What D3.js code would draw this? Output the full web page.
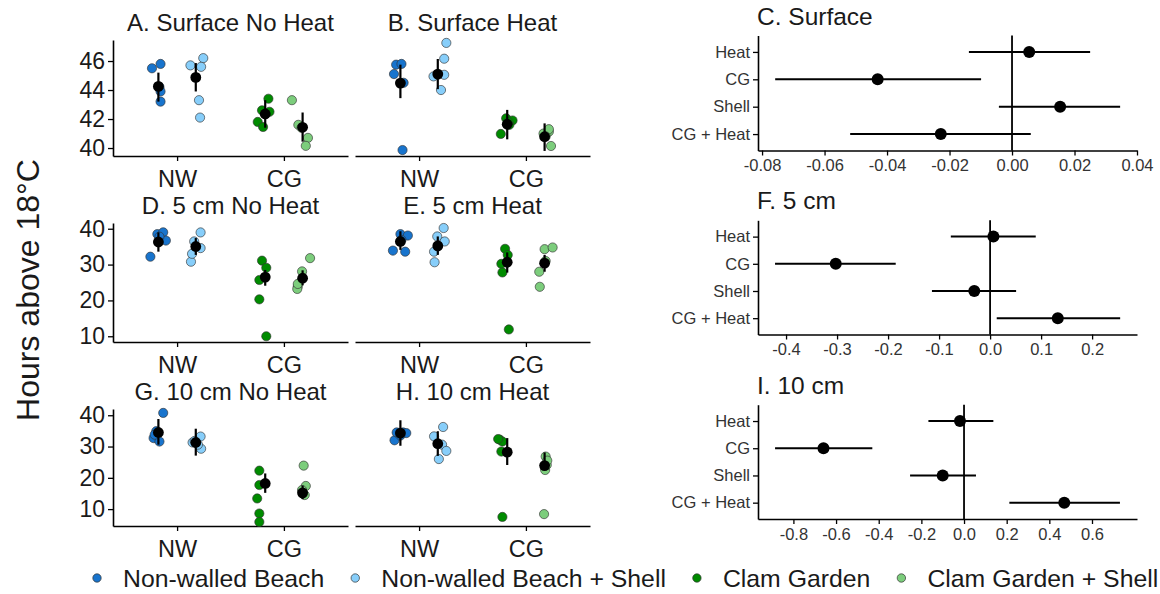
<!DOCTYPE html>
<html>
<head>
<meta charset="utf-8">
<script src="https://cdn.jsdelivr.net/npm/d3@7"></script>
<style>
  html, body { margin: 0; padding: 0; background: #fff; }
  svg { display: block; font-family: "Liberation Sans", Arial, sans-serif; }
</style>
</head>
<body>
<svg id="chart" width="1160" height="594"></svg>
<script>
// ---------------- DATA ----------------
const groups = ["Non-walled Beach", "Non-walled Beach + Shell", "Clam Garden", "Clam Garden + Shell"];
const groupColors = ["#1874CD", "#87CEFA", "#008B00", "#7CCD7C"];
const sites = ["NW", "CG"];
const panelTitles = ["A. Surface No Heat", "B. Surface Heat", "D. 5 cm No Heat", "E. 5 cm Heat", "G. 10 cm No Heat", "H. 10 cm Heat"];
const yTicksRow1 = [40, 42, 44, 46];
const yTicksRow2 = [10, 20, 30, 40];
const yTicksRow3 = [10, 20, 30, 40];

// raw values per group [NW, NW+Shell, CG, CG+Shell]
const ptsA = [[45.5, 45.8, 44.2, 43.9, 43.2], [45.7, 46.2, 45.6, 43.3, 42.1], [41.8, 41.45, 42.6, 42.5, 43.4], [43.3, 41.6, 40.7, 40.15, 41.4]];
const jitA = [[-0.06, 0.02, 0.01, 0.02, 0.02], [-0.05, 0.07, 0.05, 0.03, 0.04], [-0.07, -0.02, -0.03, 0.04, 0.03], [-0.10, -0.04, 0.05, 0.03, -0.01]];
const meanA = [44.25, 44.87, 42.35, 41.43];
const loA = [43.2, 43.9, 41.4, 40.44];
const hiA = [45.2, 45.86, 43.3, 42.45];

const ptsB = [[45.75, 45.8, 45.1, 44.5, 39.86], [47.25, 46.16, 44.94, 45.05, 44.0], [40.97, 42.05, 41.9, 41.6, 41.8], [41.0, 41.13, 40.14, 41.3, 40.8]];
const jitB = [[-0.04, 0.01, -0.06, 0.03, 0.02], [0.08, 0.06, -0.04, 0.06, 0.03], [-0.06, -0.01, 0.05, 0.02, 0.01], [-0.01, 0.04, 0.06, 0.04, 0.01]];
const meanB = [44.48, 45.1, 41.64, 40.78];
const loB = [43.44, 44.06, 40.6, 39.8];
const hiB = [45.75, 46.14, 42.63, 41.7];

const ptsD = [[32.2, 38.5, 39.0, 36.7, 37.8], [30.8, 33.0, 36.45, 38.97, 34.6], [31.1, 29.1, 25.7, 20.3, 10.0], [31.8, 28.1, 23.9, 23.2, 24.6]];
const jitD = [[-0.075, -0.01, 0.045, 0.07, 0.01], [-0.045, -0.035, -0.015, 0.045, 0.045], [-0.03, 0.01, -0.055, -0.055, 0.01], [0.07, -0.005, -0.045, -0.05, -0.045]];
const meanD = [36.3, 35.05, 26.5, 26.2];
const loD = [33.6, 32.7, 24.1, 24.2];
const hiD = [39.0, 37.4, 28.5, 28.4];

const ptsE = [[33.9, 38.5, 38.1, 33.6, 36.9], [30.65, 33.6, 37.85, 40.2, 36.45], [34.4, 32.7, 30.2, 27.8, 11.9], [34.3, 34.77, 28.0, 23.8, 31.0]];
const jitE = [[-0.07, 0.0, 0.07, 0.045, 0.01], [-0.03, -0.035, -0.005, 0.055, 0.065], [-0.02, 0.005, -0.055, -0.045, 0.015], [0.0, 0.075, -0.05, -0.045, 0.01]];
const meanE = [36.45, 35.2, 30.65, 30.4];
const loE = [34.1, 32.7, 27.76, 28.0];
const hiE = [39.3, 37.85, 33.4, 32.7];

const ptsG = [[40.75, 32.7, 34.9, 31.6, 33.8], [31.3, 33.2, 29.3, 30.6, 31.8], [22.3, 17.7, 13.4, 8.6, 5.9], [23.9, 17.4, 14.5, 16.1, 15.0]];
const jitG = [[0.045, -0.045, -0.02, 0.01, -0.035], [-0.03, 0.045, 0.05, 0.02, -0.01], [-0.055, -0.055, -0.075, -0.055, -0.055], [0.01, 0.03, 0.02, -0.005, 0.0]];
const meanG = [34.5, 31.3, 18.2, 15.2];
const loG = [30.6, 27.1, 15.2, 13.2];
const hiG = [38.8, 35.7, 21.4, 17.5];

const ptsH = [[32.0, 34.5, 34.5, 34.3, 33.5], [36.25, 33.25, 30.6, 28.6, 26.0], [32.2, 31.6, 28.4, 7.5, 32.4], [26.8, 22.5, 24.1, 8.4, 25.5]];
const jitH = [[-0.055, -0.035, 0.025, 0.055, 0.0], [0.05, -0.035, 0.04, 0.08, 0.01], [-0.07, -0.045, -0.055, -0.045, -0.085], [0.01, 0.005, 0.02, -0.005, 0.025]];
const meanH = [34.3, 30.9, 28.2, 23.9];
const loH = [30.25, 27.0, 24.1, 22.5];
const hiH = [38.4, 34.9, 32.7, 28.1];

// coefficient panels
const terms = ["Heat", "CG", "Shell", "CG + Heat"];
const coefTitles = ["C. Surface", "F. 5 cm", "I. 10 cm"];
const estC = [0.0055, -0.043, 0.0154, -0.0228];
const loC = [-0.0138, -0.0758, -0.0042, -0.0518];
const hiC = [0.025, -0.0099, 0.0346, 0.006];
const ticksC = [-0.08, -0.06, -0.04, -0.02, 0.00, 0.02, 0.04];

const estF = [0.0065, -0.3026, -0.031, 0.1327];
const loF = [-0.077, -0.4216, -0.114, 0.013];
const hiF = [0.0895, -0.185, 0.051, 0.255];
const ticksF = [-0.4, -0.3, -0.2, -0.1, 0.0, 0.1, 0.2];

const estI = [-0.019, -0.659, -0.1, 0.47];
const loI = [-0.167, -0.886, -0.253, 0.2125];
const hiI = [0.1375, -0.43, 0.056, 0.731];
const ticksI = [-0.8, -0.6, -0.4, -0.2, 0.0, 0.2, 0.4, 0.6];

const yLabel = "Hours above 18°C";

// ---------------- LAYOUT ----------------
const svg = d3.select("#chart");
const FONT_LEFT_TICK = 23, FONT_CAT = 23.5, FONT_TITLE = 24;
const colX = [[113, 348], [355, 590]];
const rows = [
  { y: [156, 40], domain: [39.45, 47.45], ticks: yTicksRow1 },
  { y: [342, 223], domain: [8.4, 41.6], ticks: yTicksRow2 },
  { y: [526, 409], domain: [4.6, 42.0], ticks: yTicksRow3 }
];
const panels = [
  { pts: ptsA, jit: jitA, mean: meanA, lo: loA, hi: hiA },
  { pts: ptsB, jit: jitB, mean: meanB, lo: loB, hi: hiB },
  { pts: ptsD, jit: jitD, mean: meanD, lo: loD, hi: hiD },
  { pts: ptsE, jit: jitE, mean: meanE, lo: loE, hi: hiE },
  { pts: ptsG, jit: jitG, mean: meanG, lo: loG, hi: hiG },
  { pts: ptsH, jit: jitH, mean: meanH, lo: loH, hi: hiH }
];
const DODGE = 0.175;

function styleAxis(g, fontSize, color) {
  g.selectAll(".domain").attr("stroke", "#000").attr("stroke-width", 1.6);
  g.selectAll(".tick line").attr("stroke", "#000").attr("stroke-width", 1.3);
  g.selectAll(".tick text").attr("font-size", fontSize).attr("fill", color)
    .attr("font-family", "'Liberation Sans', Arial, sans-serif");
}

panels.forEach((p, i) => {
  const r = Math.floor(i / 2), c = i % 2;
  const row = rows[r];
  const x = d3.scalePoint().domain(sites).range(colX[c]).padding(0.6);
  const y = d3.scaleLinear().domain(row.domain).range(row.y);
  const step = x.step();
  const g = svg.append("g");

  // x axis
  const gx = g.append("g").attr("transform", `translate(0,${row.y[0]})`)
    .call(d3.axisBottom(x).tickSize(5).tickSizeOuter(0).tickPadding(4));
  styleAxis(gx, FONT_CAT, "#1a1a1a");
  gx.selectAll(".tick text").attr("dy", "0.93em");

  // y axis only for first column
  if (c === 0) {
    const gy = g.append("g").attr("transform", `translate(${colX[c][0]},0)`)
      .call(d3.axisLeft(y).tickValues(row.ticks).tickSize(5).tickSizeOuter(0).tickPadding(3));
    styleAxis(gy, FONT_LEFT_TICK, "#1a1a1a");
  }

  // title
  g.append("text").attr("x", (colX[c][0] + colX[c][1]) / 2).attr("y", row.y[1] - 9)
    .attr("text-anchor", "middle").attr("font-size", FONT_TITLE).attr("fill", "#1a1a1a")
    .text(panelTitles[i]);

  // points
  groups.forEach((gname, gi) => {
    const site = sites[gi < 2 ? 0 : 1];
    const cx = x(site) + (gi % 2 === 0 ? -DODGE : DODGE) * step;
    g.selectAll(null).data(p.pts[gi].map((v, k) => ({ v, j: p.jit[gi][k] })))
      .enter().append("circle")
      .attr("cx", d => cx + d.j * step)
      .attr("cy", d => y(d.v))
      .attr("r", 4.6)
      .attr("fill", groupColors[gi])
      .attr("stroke", "#333")
      .attr("stroke-opacity", 0.8)
      .attr("stroke-width", 0.8);
  });
  // mean + CI
  groups.forEach((gname, gi) => {
    const site = sites[gi < 2 ? 0 : 1];
    const cx = x(site) + (gi % 2 === 0 ? -DODGE : DODGE) * step;
    g.append("line").attr("x1", cx).attr("x2", cx)
      .attr("y1", y(p.lo[gi])).attr("y2", y(p.hi[gi]))
      .attr("stroke", "#000").attr("stroke-width", 2.2);
    g.append("circle").attr("cx", cx).attr("cy", y(p.mean[gi])).attr("r", 5.4).attr("fill", "#000");
  });
});

// y axis title
svg.append("text").attr("transform", "translate(39,290) rotate(-90)")
  .attr("text-anchor", "middle").attr("font-size", 32).attr("fill", "#1a1a1a").text(yLabel);

// ---------------- COEFFICIENT PANELS ----------------
const coefPanels = [
  { est: estC, lo: loC, hi: hiC, ticks: ticksC, domain: [-0.0813, 0.04], y: [35.5, 150.5], fmt: d3.format(".2f") },
  { est: estF, lo: loF, hi: hiF, ticks: ticksF, domain: [-0.455, 0.288], y: [220.3, 334.5], fmt: d3.format(".1f") },
  { est: estI, lo: loI, hi: hiI, ticks: ticksI, domain: [-0.966, 0.811], y: [404.7, 519], fmt: d3.format(".1f") }
];
const coefX = [758, 1137];

coefPanels.forEach((p, i) => {
  const x = d3.scaleLinear().domain(p.domain).range(coefX);
  const y = d3.scalePoint().domain(terms).range(p.y).padding(0.6);
  const g = svg.append("g");

  const gx = g.append("g").attr("transform", `translate(0,${p.y[1]})`)
    .call(d3.axisBottom(x).tickValues(p.ticks).tickFormat(d => p.fmt(d).replace("−", "-")).tickSize(5).tickSizeOuter(0).tickPadding(4));
  styleAxis(gx, 16.5, "#333");

  const gy = g.append("g").attr("transform", `translate(${coefX[0]},0)`)
    .call(d3.axisLeft(y).tickSize(5).tickSizeOuter(0).tickPadding(3));
  styleAxis(gy, 16.5, "#333");

  // zero line
  g.append("line").attr("x1", x(0)).attr("x2", x(0)).attr("y1", p.y[0]).attr("y2", p.y[1])
    .attr("stroke", "#000").attr("stroke-width", 1.8);

  terms.forEach((t, k) => {
    g.append("line").attr("x1", x(p.lo[k])).attr("x2", x(p.hi[k]))
      .attr("y1", y(t)).attr("y2", y(t)).attr("stroke", "#000").attr("stroke-width", 2);
    g.append("circle").attr("cx", x(p.est[k])).attr("cy", y(t)).attr("r", 6).attr("fill", "#000");
  });

  g.append("text").attr("x", coefX[0] - 1).attr("y", p.y[0] - 11)
    .attr("font-size", 24.5).attr("fill", "#1a1a1a").text(coefTitles[i]);
});

// ---------------- LEGEND ----------------
const leg = svg.append("g");
let lx = 97;
groups.forEach((gname, gi) => {
  leg.append("circle").attr("cx", lx).attr("cy", 578).attr("r", 4.2)
    .attr("fill", groupColors[gi]).attr("stroke", "#333").attr("stroke-width", 0.7);
  const t = leg.append("text").attr("x", lx + 26).attr("y", 586.5).attr("font-size", 24.8)
    .attr("fill", "#1a1a1a").text(gname);
  const w = t.node().getComputedTextLength();
  lx = lx + 26 + w + 31;
});
</script>
</body>
</html>
